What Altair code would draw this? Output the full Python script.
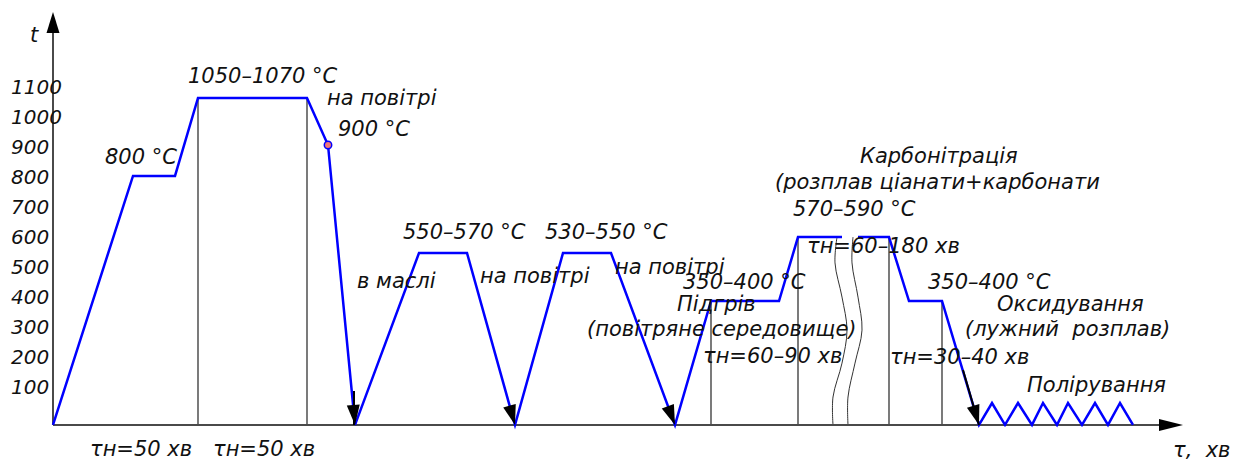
import altair as alt
import pandas as pd

# ---------------- data (time in drawing units, temperature in °C) ----------------
BASE = -23  # level at which the time axis is drawn

curve_x = [0, 80, 122, 145, 254, 275, 302, 366, 414, 462, 510, 558, 622, 658, 726, 745, 789,
           805, 836, 856, 889, 926, 939, 952, 965, 979, 990, 1004, 1015, 1029, 1042, 1055, 1067, 1080]
curve_t = [BASE, 807, 807, 1067, 1067, 910, BASE, 550, 550, BASE, 550, 550, BASE, 390, 390, 603, 603,
           603, 603, 390, 390, BASE, 50, BASE, 50, BASE, 50, BASE, 50, BASE, 50, BASE, 50, BASE]
curve_seg = [0] * 17 + [1] * 17

guide_x = [145, 254, 658, 745, 836, 889]
guide_t = [1067, 1067, 390, 603, 603, 390]

wave_t = [603, 517, 403, 293, 183, 70, BASE]
wave1_x = [784, 782, 789, 794, 789, 780, 780]
wave2_x = [800, 799, 805, 809, 802, 795, 795]

arrow_x = [302, 462, 622, 926]
arrow_angle = [355, 344, 339, 343]

shaft_x = [301, 301, 910, 926]
shaft_t = [90, BASE, 160, BASE]
shaft_id = [0, 0, 1, 1]

marker_x = [275]
marker_t = [910]

tick_values = [100, 200, 300, 400, 500, 600, 700, 800, 900, 1000, 1100]

ann_text = ["1050–1070 °C", "на повітрі", "900 °C", "800 °C", "в маслі", "550–570 °C", "530–550 °C",
            "на повітрі", "на повітрі", "350–400 °C", "Підгрів", "(повітряне середовище)",
            "τн=60–90 хв", "Карбонітрація", "(розплав ціанати+карбонати", "570–590 °C",
            "τн=60–180 хв", "350–400 °C", "Оксидування", "(лужний\u00a0\u00a0розплав)", "τн=30–40 хв",
            "Полірування", "τн=50 хв", "τн=50 хв", "τ,\u00a0\u00a0хв", "t"]
ann_x = [135, 274, 285, 52, 304, 350, 492, 427, 562, 630, 624, 534, 650, 807, 722, 740, 754, 875,
         944, 912, 837, 974, 37, 160, 1120, -23]
ann_t = [1137, 1063, 960, 867, 453, 617, 617, 470, 500, 450, 377, 293, 203, 870, 783, 693, 570, 450,
         377, 293, 200, 107, -107, -107, -110, 1273]

X_DOM = [-53, 1193]
Y_DOM = [-143.3, 1393.3]
Y_TOP = 1310
X_END = 1112
Y_ARROW_TIP = 1353
X_ARROW_TIP = 1130

# ---------------- chart ----------------
xs = alt.Scale(domain=X_DOM, nice=False, zero=False)
ys = alt.Scale(domain=Y_DOM, nice=False, zero=False)
FONT = "DejaVu Sans"


def X(f="x"):
    return alt.X(f + ":Q", scale=xs, axis=None)


def Y(f="t"):
    return alt.Y(f + ":Q", scale=ys, axis=None)


curve = pd.DataFrame({"x": curve_x, "t": curve_t, "seg": curve_seg, "i": range(len(curve_x))})
guides = pd.DataFrame({"x": guide_x, "t": guide_t, "b": [BASE] * len(guide_x)})
waves = pd.DataFrame({"x": wave1_x + wave2_x, "t": wave_t + wave_t,
                      "w": [0] * len(wave_t) + [1] * len(wave_t),
                      "i": list(range(len(wave_t))) * 2})
arrows = pd.DataFrame({"x": arrow_x, "t": [BASE] * len(arrow_x), "a": arrow_angle})
shafts = pd.DataFrame({"x": shaft_x, "t": shaft_t, "id": shaft_id})
marker = pd.DataFrame({"x": marker_x, "t": marker_t})
ticks = pd.DataFrame({"t": tick_values, "label": [str(v) for v in tick_values]})
ann = pd.DataFrame({"x": ann_x, "t": ann_t, "text": ann_text})
axes = pd.DataFrame({"x": [0], "x2": [X_END], "t": [BASE], "t2": [Y_TOP]})
heads = pd.DataFrame({"x": [0, X_ARROW_TIP], "t": [Y_ARROW_TIP, BASE], "k": ["up", "right"]})

x_axis = alt.Chart(axes).mark_rule(color="#4a4a4a", strokeWidth=2).encode(
    x=X(), x2="x2:Q", y=Y())
y_axis = alt.Chart(axes).mark_rule(color="#4a4a4a", strokeWidth=2).encode(
    x=X(), y=Y(), y2="t2:Q")

up_head = alt.Chart(heads[heads.k == "up"]).mark_point(
    shape="M -0.62 2 L 0.62 2 L 0 0 Z", size=441, filled=True, color="black", opacity=1
).encode(x=X(), y=Y())
right_head = alt.Chart(heads[heads.k == "right"]).mark_point(
    shape="M -2 -0.5 L -2 0.5 L 0 0 Z", size=576, filled=True, color="black", opacity=1
).encode(x=X(), y=Y())

guide_lines = alt.Chart(guides).mark_rule(color="#222222", strokeWidth=1.2).encode(
    x=X(), y=Y(), y2="b:Q")

wave_lines = alt.Chart(waves).mark_line(color="#333333", strokeWidth=1, interpolate="catmull-rom").encode(
    x=X(), y=Y(), detail="w:N", order="i:Q")

curve_line = alt.Chart(curve).mark_line(color="#0000ff", strokeWidth=2.5).encode(
    x=X(), y=Y(), detail="seg:N", order="i:Q")

shaft_lines = alt.Chart(shafts).mark_line(color="black", strokeWidth=2).encode(
    x=X(), y=Y(), detail="id:N")

down_heads = alt.Chart(arrows).mark_point(
    shape="M -0.65 -2 L 0.65 -2 L 0 0 Z", size=400, filled=True, color="black", opacity=1
).encode(x=X(), y=Y(), angle=alt.Angle("a:Q", scale=None))

marker_pt = alt.Chart(marker).mark_point(
    shape="circle", size=55, filled=True, fill="#f07878", stroke="#0000ff", strokeWidth=1.5, opacity=1
).encode(x=X(), y=Y())

tick_text = alt.Chart(ticks).mark_text(
    align="left", baseline="middle", font=FONT, fontStyle="italic", fontSize=20, color="#111111"
).encode(x=alt.value(11), y=Y(), text="label:N")

ann_text_layer = alt.Chart(ann).mark_text(
    align="left", baseline="middle", font=FONT, fontStyle="italic", fontSize=21, color="#111111"
).encode(x=X(), y=Y(), text="text:N")

chart = alt.layer(
    guide_lines, wave_lines, x_axis, y_axis, up_head, right_head,
    curve_line, shaft_lines, down_heads, marker_pt, tick_text, ann_text_layer
).properties(
    width=1246, height=461, padding=0,
    autosize=alt.AutoSizeParams(type="none", contains="padding"),
    background="white"
).configure_view(stroke=None)

chart.save("out.html", embed_options={"renderer": "svg", "actions": False})
